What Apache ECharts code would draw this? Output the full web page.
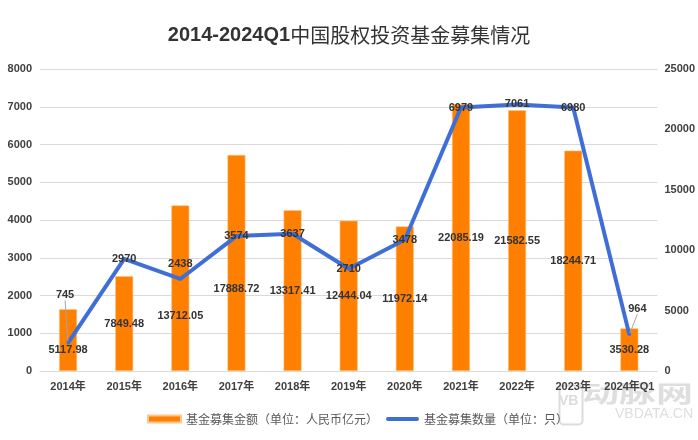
<!DOCTYPE html>
<html>
<head>
<meta charset="utf-8">
<script src="https://cdn.jsdelivr.net/npm/echarts@6/dist/echarts.min.js"></script>
<style>
html,body{margin:0;padding:0;background:#fff;}
#main{width:698px;height:440px;}
</style>
</head>
<body>
<div id="main"></div>
<script>
const categories = ['2014年','2015年','2016年','2017年','2018年','2019年','2020年','2021年','2022年','2023年','2024年Q1'];
const fundAmount = [5117.98, 7849.48, 13712.05, 17888.72, 13317.41, 12444.04, 11972.14, 22085.19, 21582.55, 18244.71, 3530.28];
const fundCount = [745, 2970, 2438, 3574, 3637, 2710, 3478, 6979, 7061, 6980, 964];
const leftTicks = {min: 0, max: 8000, interval: 1000};
const rightTicks = {min: 0, max: 25000, interval: 5000};

const FONT = '"Liberation Sans", "Noto Sans CJK SC", sans-serif';
const chart = echarts.init(document.getElementById('main'), null, {renderer: 'canvas'});

const amountShift = {0: 10, 2: 28, 3: 26};
const countShift = {0: [-3, -48], 2: [0, -15], 10: [8, -26]};
const plain = v => String(v);
const LINE_BLUE = '#3f6fd6';

chart.setOption({
  backgroundColor: '#ffffff',
  animation: false,
  title: {
    text: '{a|2014-2024Q1}{b|中国股权投资基金募集情况}',
    left: 'center',
    top: 20,
    textStyle: {
      rich: {
        a: {fontFamily: '"Liberation Sans", sans-serif', fontSize: 20, fontWeight: 'bold', color: '#333333'},
        b: {fontFamily: '"Noto Sans CJK SC", sans-serif', fontSize: 20, fontWeight: 'normal', color: '#333333'}
      }
    }
  },
  legend: {
    left: 142,
    top: 408,
    itemWidth: 33,
    itemHeight: 7,
    itemGap: 8,
    textStyle: {fontFamily: '"Noto Sans CJK SC", sans-serif', fontSize: 12, color: '#595959'},
    data: [
      {name: '基金募集金额（单位：人民币亿元）', icon: 'rect'},
      {name: '基金募集数量（单位：只）', icon: 'path://M2,0 L31,0 A2,2 0 0 1 31,4 L2,4 A2,2 0 0 1 2,0 Z'}
    ]
  },
  grid: {left: 40, right: 40, top: 69, bottom: 69},
  xAxis: {
    type: 'category',
    data: categories,
    axisLine: {show: true, lineStyle: {color: '#d9d9d9'}},
    axisTick: {show: false},
    axisLabel: {interval: 0, fontFamily: FONT, fontSize: 11, fontWeight: 'bold', color: '#404040', margin: 10}
  },
  yAxis: [
    {
      type: 'value', position: 'left',
      min: leftTicks.min, max: leftTicks.max, interval: leftTicks.interval,
      axisLine: {show: false}, axisTick: {show: false},
      splitLine: {lineStyle: {color: '#d9d9d9', width: 1}},
      axisLabel: {formatter: plain, fontFamily: FONT, fontSize: 11, fontWeight: 'bold', color: '#404040', margin: 8}
    },
    {
      type: 'value', position: 'right',
      min: rightTicks.min, max: rightTicks.max, interval: rightTicks.interval,
      axisLine: {show: false}, axisTick: {show: false},
      splitLine: {show: false},
      axisLabel: {formatter: plain, fontFamily: FONT, fontSize: 11, fontWeight: 'bold', color: '#404040', margin: 7}
    }
  ],
  graphic: [
    {type: 'rect', left: 557, top: 383, z: 0, shape: {width: 23, height: 39, r: 4}, style: {fill: 'none', stroke: '#dcdcdc', lineWidth: 2}},
    {type: 'text', left: 559, top: 394, z: 0, style: {text: 'VB', font: 'bold 14px "Liberation Sans"', fill: '#dcdcdc'}},
    {type: 'text', left: 582, top: 382, z: 0, scaleY: 0.62, style: {text: '动脉网', font: 'bold 37px "Noto Sans CJK SC"', fill: '#dedede'}},
    {type: 'text', left: 615, top: 407, z: 0, style: {text: 'VBDATA.CN', font: '14px "Liberation Sans"', fill: '#dedede'}}
  ],
  series: [
    {
      name: '基金募集金额（单位：人民币亿元）',
      type: 'bar',
      yAxisIndex: 1,
      data: fundAmount,
      barWidth: 18,
      itemStyle: {color: '#ff7f00', borderColor: '#ffc58a', borderWidth: 0.6},
      label: {
        show: true, position: 'inside',
        fontFamily: FONT, fontSize: 11, fontWeight: 'bold', color: '#333333',
        formatter: p => p.value.toFixed(2)
      },
      labelLayout: p => (amountShift[p.dataIndex] ? {dy: amountShift[p.dataIndex]} : {}),
      z: 2
    },
    {
      name: '基金募集数量（单位：只）',
      type: 'line',
      yAxisIndex: 0,
      data: fundCount.map((v, i) => ({value: v, labelLine: {show: i === 0 || i === 10}})),
      symbol: 'circle',
      symbolSize: 3,
      itemStyle: {color: LINE_BLUE},
      lineStyle: {color: LINE_BLUE, width: 4},
      label: {
        show: true, position: 'inside',
        fontFamily: FONT, fontSize: 11, fontWeight: 'bold', color: '#333333'
      },
      labelLine: {show: false, lineStyle: {color: '#a6a6a6', width: 1}},
      labelLayout: p => {
        const s = countShift[p.dataIndex];
        return s ? {dx: s[0], dy: s[1]} : {};
      },
      z: 3
    }
  ]
});
</script>
</body>
</html>
